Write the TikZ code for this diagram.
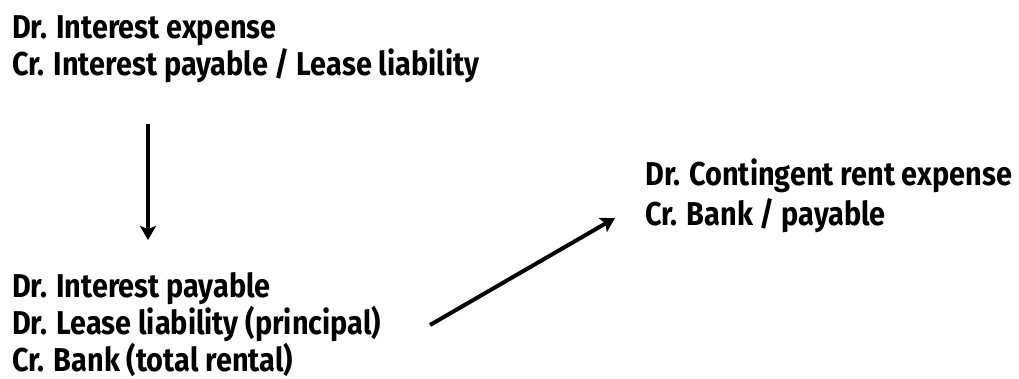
\documentclass[tikz,border=0pt]{standalone}
\usepackage{fontspec}
\setmainfont{Fira Sans}[FakeStretch=0.875]
\usetikzlibrary{arrows.meta,calc}
\begin{document}
\begin{tikzpicture}[x=1pt,y=-1pt,
  entry/.style={anchor=base west,inner sep=0pt,align=left,
    font=\fontsize{33}{37}\selectfont\bfseries},
  arr/.style={line width=4pt,-{Stealth[length=14pt,width=16pt,inset=3pt]}}]
\useasboundingbox (0,0) rectangle (1019,378);
% base west = baseline of the last line
\node[entry] (top) at (12,75) {Dr. Interest expense\\Cr. Interest payable / Lease liability};
\node[entry] (bot) at (12,371) {Dr. Interest payable\\Dr. Lease liability (principal)\\Cr. Bank (total rental)};
\node[entry,font=\fontsize{33}{40}\selectfont\bfseries] (right) at (645,225) {Dr. Contingent rent expense\\Cr. Bank / payable};
\draw[arr] ($(top.base west)+(136,49)$) -- ($(bot.base west)+(136,-131)$);
\draw[arr] ($(bot.base west)+(418,-46)$) -- ($(right.base west)+(-30,-7)$);
\end{tikzpicture}
\end{document}
